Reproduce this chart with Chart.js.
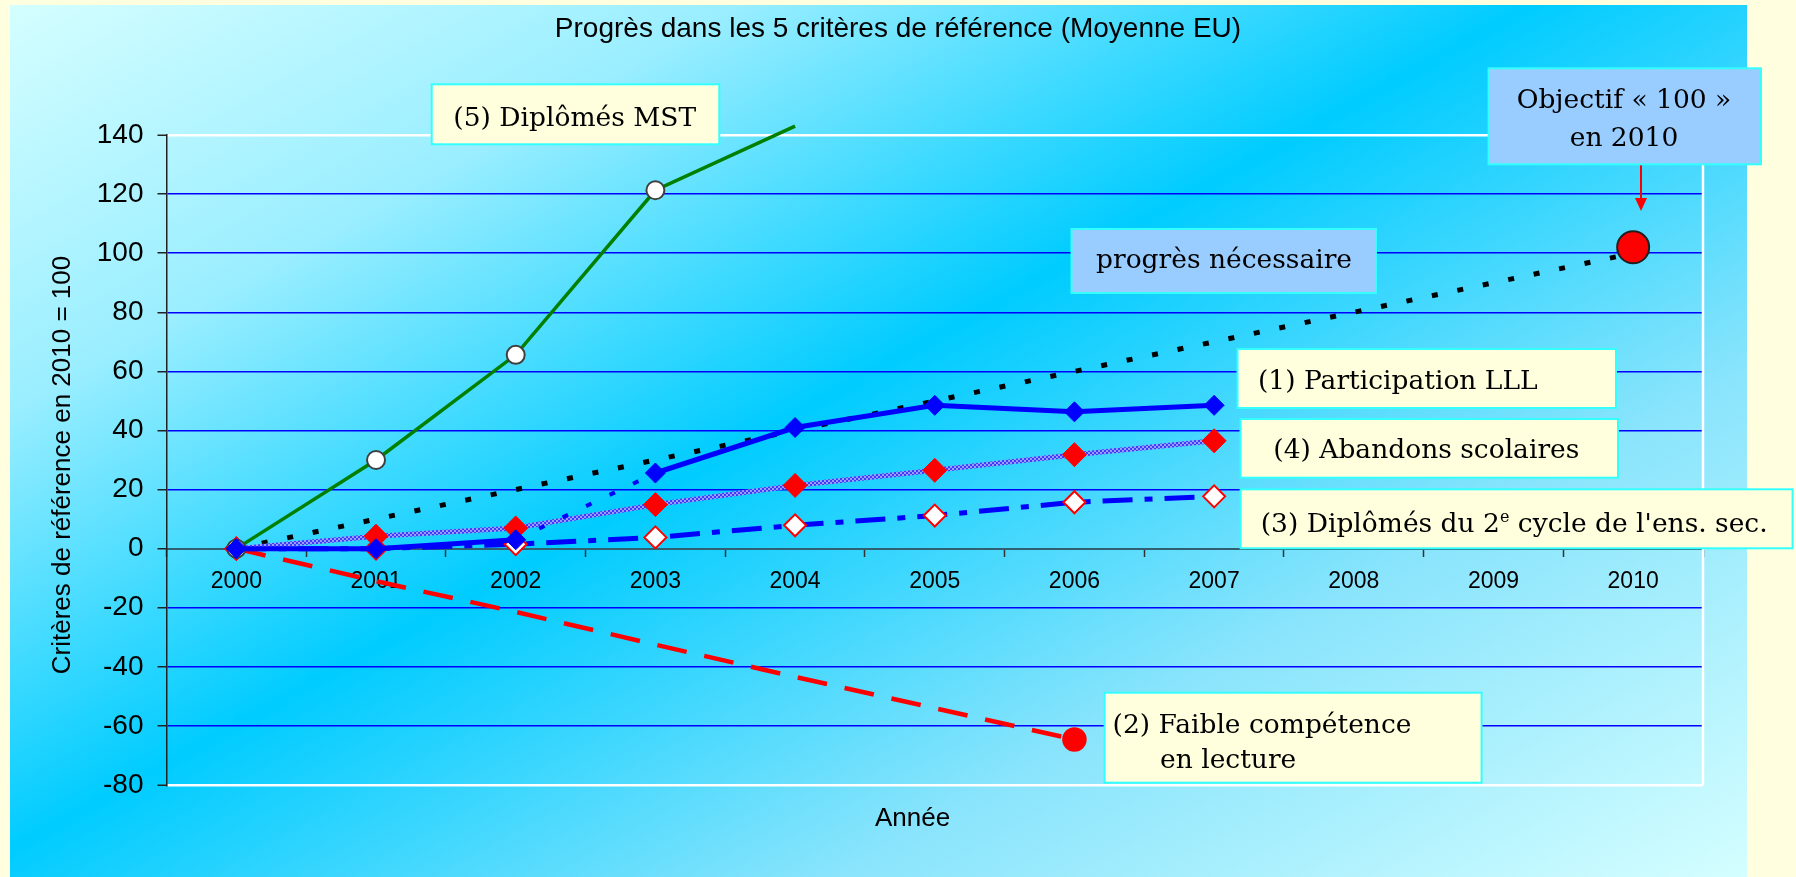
<!DOCTYPE html>
<html>
<head>
<meta charset="utf-8">
<script src="https://cdn.jsdelivr.net/npm/chart.js@4.4.0/dist/chart.umd.min.js"></script>
<style>
  html, body { margin: 0; padding: 0; background: #ffffe0; }
  #wrap { width: 1796px; height: 877px; }
</style>
</head>
<body>
<div id="wrap"><canvas id="chart" width="1796" height="877"></canvas></div>
<script>
// data (index 2010 = 100)
const years = ['2000','2001','2002','2003','2004','2005','2006','2007','2008','2009','2010'];
const participationLLL = [0, 0, 3, 25.6, 41, 48.5, 46.3, 48.5, null, null, null];
const abandonsScolaires = [0, 4.2, 7, 14.9, 21.4, 26.5, 31.8, 36.5, null, null, null];
const diplomesSecondaire = [0, 0, 1.5, 3.8, 7.9, 11.2, 15.7, 17.7, null, null, null];
const diplomesMST = [0, 30, 65.6, 121.3, 143, null, null, null, null, null, null];
const faibleLecture = [0, -11, -21.4, -32.5, -43.4, -54, -64.6, null, null, null, null];
const progresNecessaire = [0, 10, 20, 30, 40, 50, 60, 70, 80, 90, 100];
const objectif2010 = [null, null, null, null, null, null, null, null, null, null, 102];
const yMin = -80, yMax = 140, yStep = 20;

const titleText = 'Progrès dans les 5 critères de référence (Moyenne EU)';
const yTitle = 'Critères de référence en 2010 = 100';
const xTitle = 'Année';

// text boxes drawn on top of the chart
const boxes = [
  { x: 431.7, y: 84.3, w: 287.6, h: 60, fill: '#ffffdd', lines: [{ x: 453.3, y: 125.7, runs: [{ t: '(5) Diplômés MST' }] }] },
  { x: 1488.6, y: 68.3, w: 272.4, h: 96, fill: '#99ccff', center: 1624, lines: [{ y: 108.3, runs: [{ t: 'Objectif « 100 »' }] }, { y: 145.7, runs: [{ t: 'en 2010' }] }] },
  { x: 1071.5, y: 229, w: 304.5, h: 64, fill: '#99ccff', lines: [{ x: 1096, y: 268.3, runs: [{ t: 'progrès nécessaire' }] }] },
  { x: 1237.5, y: 349, w: 378.5, h: 59, fill: '#ffffdd', lines: [{ x: 1258, y: 389.3, runs: [{ t: '(1) Participation LLL' }] }] },
  { x: 1240.5, y: 419, w: 377.5, h: 58.7, fill: '#ffffdd', lines: [{ x: 1273.3, y: 458.3, runs: [{ t: '(4) Abandons scolaires' }] }] },
  { x: 1240.6, y: 489.3, w: 552, h: 59, fill: '#ffffdd', lines: [{ x: 1260.7, y: 531.7, runs: [{ t: '(3) Diplômés du 2' }, { t: 'e', sup: true }, { t: " cycle de l'ens. sec." }] }] },
  { x: 1104.6, y: 692.7, w: 377, h: 90, fill: '#ffffdd', lines: [{ x: 1112.6, y: 733.3, runs: [{ t: '(2) Faible compétence' }] }, { x: 1160, y: 768.3, runs: [{ t: 'en lecture' }] }] }
];

Chart.defaults.font.family = '"Liberation Sans", Arial, sans-serif';
Chart.defaults.color = '#000';

const ctx = document.getElementById('chart');

function hatchPattern() {
  const p = document.createElement('canvas');
  p.width = 4; p.height = 4;
  const c = p.getContext('2d');
  c.fillStyle = '#3c3cff'; c.fillRect(0, 0, 4, 4);
  c.fillStyle = '#9c9cff'; c.fillRect(0, 0, 2, 2); c.fillRect(2, 2, 2, 2);
  return ctx.getContext('2d').createPattern(p, 'repeat');
}

const serif = '"DejaVu Serif", serif';

function runWidth(c, runs) {
  let w = 0;
  runs.forEach(r => {
    c.font = (r.sup ? '16px ' : '26.5px ') + serif;
    w += c.measureText(r.t).width;
  });
  return w;
}

const decor = {
  id: 'decor',
  beforeDraw(chart) {
    const c = chart.ctx;
    c.save();
    c.fillStyle = '#ffffe0';
    c.fillRect(0, 0, chart.width, chart.height);
    const g = c.createLinearGradient(341, -179, 1121, 1225);
    g.addColorStop(0, '#d4feff');
    g.addColorStop(0.22, '#9aeeff');
    g.addColorStop(0.46, '#00ccff');
    g.addColorStop(0.72, '#88e4fc');
    g.addColorStop(1, '#d4feff');
    c.fillStyle = g;
    c.fillRect(10, 5, 1737, 872);
    c.restore();
  },
  beforeDatasetsDraw(chart) {
    const c = chart.ctx;
    const a = chart.chartArea;
    c.save();
    c.strokeStyle = '#ffffff';
    c.lineWidth = 2.5;
    c.beginPath();
    c.moveTo(a.right, a.top);
    c.lineTo(a.right, a.bottom);
    c.stroke();
    c.restore();
  },
  afterDraw(chart) {
    const c = chart.ctx;
    c.save();
    // titles
    c.fillStyle = '#000';
    c.textAlign = 'center';
    c.textBaseline = 'alphabetic';
    c.font = '28px "Liberation Sans", Arial, sans-serif';
    c.fillText(titleText, 898, 37.3);
    c.font = '26px "Liberation Sans", Arial, sans-serif';
    c.fillText(xTitle, 912.6, 826);
    c.save();
    c.translate(62.5, 465);
    c.rotate(-Math.PI / 2);
    c.textBaseline = 'middle';
    c.fillText(yTitle, 0, 0);
    c.restore();

    // arrow to the 2010 objective
    c.strokeStyle = '#ff0000';
    c.fillStyle = '#ff0000';
    c.lineWidth = 2;
    c.beginPath();
    c.moveTo(1641, 164.5);
    c.lineTo(1641, 199);
    c.stroke();
    c.beginPath();
    c.moveTo(1635, 198);
    c.lineTo(1647, 198);
    c.lineTo(1641, 211);
    c.closePath();
    c.fill();

    // label boxes
    boxes.forEach(b => {
      c.fillStyle = b.fill;
      c.fillRect(b.x, b.y, b.w, b.h);
      c.strokeStyle = '#33ffff';
      c.lineWidth = 2;
      c.strokeRect(b.x, b.y, b.w, b.h);
      c.fillStyle = '#000';
      c.textAlign = 'left';
      c.textBaseline = 'alphabetic';
      b.lines.forEach(l => {
        let x = l.x;
        if (b.center !== undefined) x = b.center - runWidth(c, l.runs) / 2;
        l.runs.forEach(r => {
          c.font = (r.sup ? '16px ' : '26.5px ') + serif;
          c.fillText(r.t, x, r.sup ? l.y - 10 : l.y);
          x += c.measureText(r.t).width;
        });
      });
    });
    c.restore();
  }
};

new Chart(ctx, {
  type: 'line',
  data: {
    labels: years,
    datasets: [{
      label: '(1) Participation LLL',
      data: participationLLL,
      borderColor: '#0000ff',
      borderWidth: 5,
      pointStyle: 'rectRot',
      pointRadius: 10,
      pointBackgroundColor: '#0000ff',
      pointBorderColor: '#0000ff',
      pointBorderWidth: 1,
      segment: {
        borderDash: c => c.p0DataIndex === 2 ? [6, 20] : undefined,
        borderWidth: c => c.p0DataIndex === 2 ? 4 : undefined
      }
    }, {
      label: '(5) Diplômés MST',
      data: diplomesMST,
      borderColor: '#008000',
      borderWidth: 3.5,
      pointStyle: 'circle',
      pointRadius: [9, 9, 9, 9, 0],
      pointBackgroundColor: '#ffffff',
      pointBorderColor: '#404040',
      pointBorderWidth: 2,
      clip: { left: 0, top: 12, right: 0, bottom: 0 }
    }, {
      label: '(4) Abandons scolaires',
      data: abandonsScolaires,
      borderColor: hatchPattern(),
      borderWidth: 5,
      pointStyle: 'rectRot',
      pointRadius: 12,
      pointBackgroundColor: '#ff0000',
      pointBorderColor: '#ff0000',
      pointBorderWidth: 1
    }, {
      label: "(3) Diplômés du 2e cycle de l'ens. sec.",
      data: diplomesSecondaire,
      borderColor: '#0000ff',
      borderWidth: 5,
      borderDash: [30, 12, 8, 12],
      pointStyle: 'rectRot',
      pointRadius: 11,
      pointBackgroundColor: '#ffffff',
      pointBorderColor: '#ff0000',
      pointBorderWidth: 2
    }, {
      label: 'Objectif 2010',
      data: objectif2010,
      showLine: false,
      pointStyle: 'circle',
      pointRadius: 16,
      pointBackgroundColor: '#ff0000',
      pointBorderColor: '#202020',
      pointBorderWidth: 2
    }, {
      label: 'progrès nécessaire',
      data: progresNecessaire,
      borderColor: '#000000',
      borderWidth: 5,
      borderDash: [6, 20],
      pointRadius: 0
    }, {
      label: '(2) Faible compétence en lecture',
      data: faibleLecture,
      borderColor: '#ff0000',
      borderWidth: 4.5,
      borderDash: [30, 18],
      pointStyle: 'circle',
      pointRadius: [0, 0, 0, 0, 0, 0, 10],
      pointBackgroundColor: '#ff0000',
      pointBorderColor: '#ff0000'
    }]
  },
  options: {
    responsive: false,
    animation: false,
    layout: { padding: { left: 0, top: 135, right: 93, bottom: 92 } },
    plugins: {
      legend: { display: false },
      tooltip: { enabled: false },
      title: { display: false }
    },
    elements: { line: { tension: 0 } },
    scales: {
      x: {
        type: 'category',
        position: { y: 0 },
        offset: true,
        grid: {
          offset: true,
          drawOnChartArea: false,
          tickLength: 7,
          tickColor: '#333',
          tickWidth: 1.5
        },
        border: { color: '#2f5f70', width: 2 },
        ticks: { font: { size: 23 }, padding: 12, maxRotation: 0, autoSkip: false }
      },
      y: {
        min: yMin,
        max: yMax,
        ticks: { stepSize: yStep, font: { size: 28 }, padding: 14 },
        grid: {
          color: c => {
            const v = c.tick && c.tick.value;
            if (v === yMax || v === yMin) return '#ffffff';
            if (v === 0) return 'rgba(0,0,0,0)';
            return '#0000ff';
          },
          lineWidth: c => {
            const v = c.tick && c.tick.value;
            return (v === yMax || v === yMin) ? 2.5 : 1.5;
          },
          tickLength: 9,
          tickColor: '#222',
          tickWidth: 1.5
        },
        border: { color: '#222', width: 1.5 },
        afterFit: axis => { axis.width = 166.5; }
      }
    }
  },
  plugins: [decor]
});
</script>
</body>
</html>
